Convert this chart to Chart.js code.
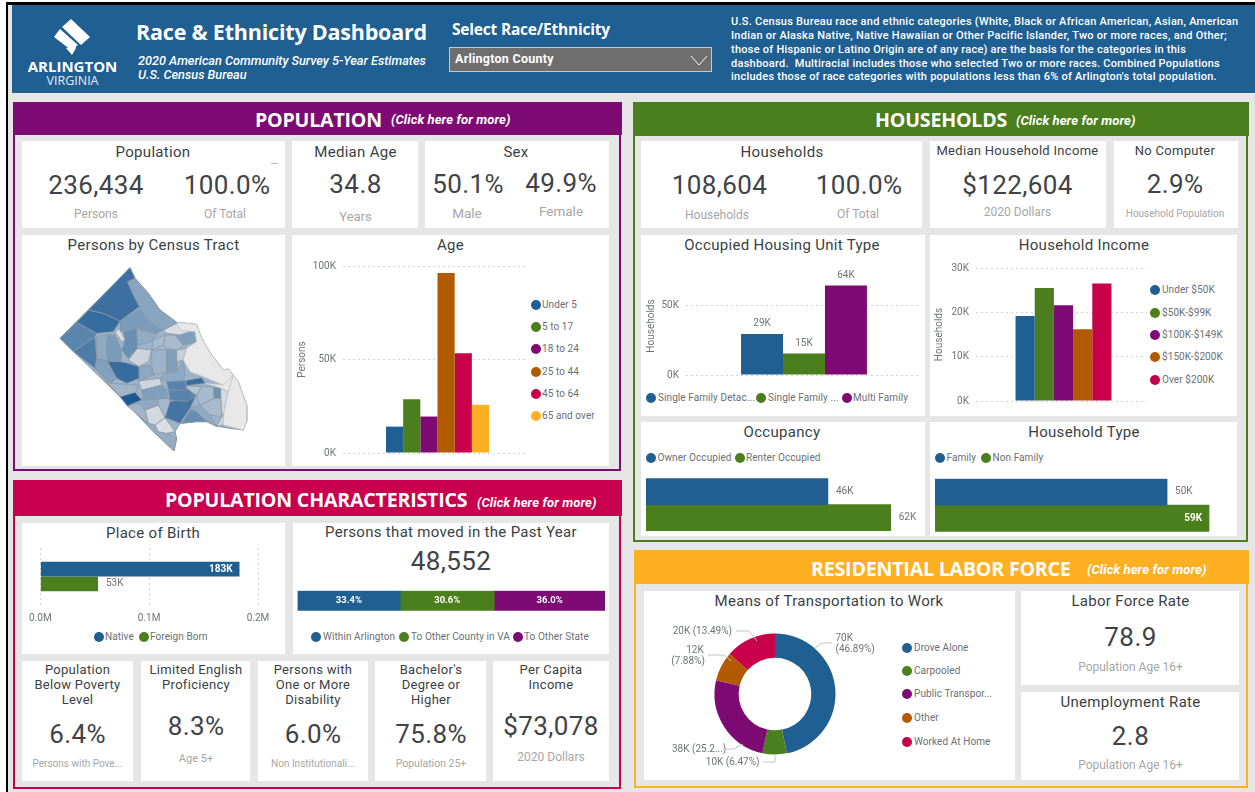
<!DOCTYPE html>
<html><head><meta charset="utf-8">
<script src="https://cdn.jsdelivr.net/npm/chart.js@4"></script>
<style>
html,body{margin:0;padding:0;background:#fff;overflow:hidden}
#root{position:relative;width:1255px;height:792px;overflow:hidden;background:#e6e6e6;font-family:Roboto,sans-serif}
#root div,#root canvas,#root svg{position:absolute}
.t{white-space:nowrap;line-height:1}
</style></head><body><div id="root"></div>
<script>
// ---------- data ----------
const ageGroups=['Under 5','5 to 17','18 to 24','25 to 44','45 to 64','65 and over'];
const ageValues=[14100,28700,19500,96300,53400,25800];
const ageTicks=[0,50000,100000];
const unitTypes=['Single Family Detac...','Single Family ...','Multi Family'];
const unitValues=[29300,15300,64000];
const unitTicks=[0,50000];
const incomeGroups=['Under $50K','$50K-$99K','$100K-$149K','$150K-$200K','Over $200K'];
const incomeValues=[19200,25500,21600,16200,26500];
const incomeTicks=[0,10000,20000,30000];
const occupancyNames=['Owner Occupied','Renter Occupied'];
const occupancyValues=[46300,62300];
const householdTypes=['Family','Non Family'];
const householdTypeValues=[49800,58800];
const birthNames=['Native','Foreign Born'];
const birthValues=[183000,53000];
const birthTicks=[0,100000,200000];
const movedNames=['Within Arlington','To Other County in VA','To Other State'];
const movedShares=[33.4,30.6,36.0];
const commuteNames=['Drove Alone','Carpooled','Public Transpor...','Other','Worked At Home'];
const commuteValues=[69900,9650,37670,11750,20110];
const mapOutline=[330,98,345,130,385,175,420,225,470,262,530,268,545,310,575,360,610,405,625,402,640,420,655,440,680,510,680,560,670,585,630,580,600,575,560,560,530,560,480,565,465,590,470,610,462,648,400,590,300,485,120,310];
const tractShapes=[
[330,98,345,130,322,140,340,180,358,215,300,258,250,235,205,225,170,262],
[205,225,250,235,300,258,280,290,230,295,170,262],
[345,130,385,175,420,225,470,262,430,285,395,265,358,222,358,215,340,180,322,140],
[358,222,395,265,430,285,410,295,350,280,300,290,300,258],
[170,262,230,295,225,305,160,350,120,310],
[225,305,230,370,225,400,160,350],
[230,305,262,298,258,340,262,378,230,370],
[262,298,285,300,305,345,302,380,262,378,258,340],
[285,290,300,280,315,315,305,320],
[310,290,350,280,352,340,325,370,305,345,315,315],
[350,285,410,295,395,320,352,330],
[262,378,302,380,325,385,357,395,358,430,320,445,290,430],
[225,370,262,378,290,430,270,445,225,400],
[225,400,270,445,355,450,350,470,300,485],
[300,485,345,472,365,495,322,513],
[357,395,395,390,400,420,358,438],
[355,438,420,430,425,450,365,465],
[365,465,425,450,440,465,445,490,370,495],
[440,440,495,437,500,465,445,465],
[445,465,500,460,530,482,500,500,450,495],
[495,437,545,428,555,445,500,452],
[450,500,528,482,510,520,480,565,435,548],
[510,525,530,530,560,560,530,560,485,565],
[345,495,370,495,410,490,415,510,375,525,355,505],
[355,505,375,525,385,565,360,545,322,513],
[375,525,415,510,435,548,405,570,385,565],
[415,490,445,490,455,510,435,548,415,510],
[405,570,435,548,465,590,440,595,415,590],
[385,565,405,570,415,590,440,595,470,610,462,648,400,590,360,545],
[470,262,530,268,545,310,575,360,610,405,625,402,640,420,610,450,550,425,510,410,490,375,500,340,530,320,525,290,480,285],
[640,420,655,440,680,510,680,560,670,585,610,570,612,530,625,470],
[610,450,640,420,625,470,600,458,555,445],
[430,285,470,265,525,285,480,300,440,295],
[465,300,525,285,530,320,490,330],
[400,315,435,300,430,330,395,345],
[435,300,465,300,490,330,470,345,440,340,430,330],
[470,345,500,340,490,375,470,380],
[440,345,470,345,470,410,440,412],
[352,340,395,345,385,380,357,395,325,375],
[395,345,440,345,440,412,400,420,395,390],
[440,412,470,410,490,375,495,420,490,437,440,440,420,430],
[530,482,545,455,580,455,582,490,540,510],
[580,455,600,458,602,490,582,490],
[540,510,582,490,602,490,605,545,570,540],
[510,520,540,510,570,540,590,575,560,560,530,530],
[600,458,625,470,612,530,605,545],
[590,575,605,545,612,530,610,570],
[500,452,545,455,530,482,500,465]];
const tractPersons=[5900,6100,3300,3800,4900,5300,3100,3800,500,4400,3000,6100,3500,2500,7000,3200,900,3600,5000,5000,6000,5700,4500,3100,2500,800,2300,500,2900,0,0,0,500,3600,2200,2200,1200,3600,1000,2600,3100,2200,4300,2200,3100,700,1000,1800];

// ---------- palette ----------
const BLUE='#1f5f92',GREEN='#4b7f1d',PURPLE='#7e0a74',ORANGE='#b25a00',RED='#c80049',GOLD='#fdb022';
const SERIES=[BLUE,GREEN,PURPLE,ORANGE,RED,GOLD];
const root=document.getElementById('root');
const INK='#3a3f44',SOFT='#a6a6a6',LEG='#6a6f73',HEAD='"Open Sans",sans-serif';

function box(x,y,w,h,bg,extra){const d=document.createElement('div');d.style.cssText=`left:${x}px;top:${y}px;width:${w}px;height:${h}px;background:${bg};${extra||''}`;root.appendChild(d);return d;}
function txt(s,x,y,o){o=o||{};const d=document.createElement('div');d.className='t';d.textContent=s;
 const a=o.align||'center';const tx=a==='center'?'-50%':a==='right'?'-100%':'0';
 d.style.cssText=`left:${x}px;top:${y}px;transform:translate(${tx},-50%);font-size:${o.size||15}px;color:${o.color||INK};font-weight:${o.weight||400};font-style:${o.italic?'italic':'normal'};font-family:${o.font||'Roboto,sans-serif'};letter-spacing:${o.ls||0}px;`;
 root.appendChild(d);return d;}
const title=(s,x,y,o)=>txt(s,x,y,Object.assign({size:15,color:'#3a3f44',ls:.3},o||{}));
const big=(s,x,y,o)=>txt(s,x,y,Object.assign({size:26,color:'#3f4347',ls:.4},o||{}));
const sub=(s,x,y,o)=>txt(s,x,y,Object.assign({size:12,color:SOFT},o||{}));
function dot(x,y,c){box(x-5,y-5,10,10,c,'border-radius:50%');}
function leg(name,dx,tx,y,c){dot(dx,y,c);txt(name,tx,y,{align:'left',size:10,color:LEG,ls:.08});}
function rect(a,b,c,d){return box(a,b,c-a,d-b,'#fff');}
function panel(a,b,c,d,color,head){box(a,b,c-a-5,d-b-5,'#e6e6e6',`border:2.5px solid ${color}`);box(a,b,c-a,head-b,color);}

// frame
box(0,0,6,792,'#fff');box(0,0,1255,2,'#fff');box(6,2,2,790,'#000');box(6,2,1249,2.5,'#000');

// header band
box(12,5,1243,88,BLUE);
const ns='http://www.w3.org/2000/svg';
function svgLayer(){const s=document.createElementNS(ns,'svg');s.setAttribute('width',1255);s.setAttribute('height',792);s.style.cssText='left:0;top:0;pointer-events:none;z-index:5';root.appendChild(s);return s;}
const logo=svgLayer();
[[71,19,90,37,81,45,62,27],[60,29,78,45,71,50,54,37],[66,48,75,46,76,48,72,55]].forEach(p=>{const e=document.createElementNS(ns,'polygon');e.setAttribute('points',p.join(' '));e.setAttribute('fill','#fff');logo.appendChild(e);});
txt('ARLINGTON',72.5,66,{size:15,weight:700,color:'#fff',font:HEAD});
txt('VIRGINIA',72.5,81,{size:12.5,weight:400,color:'#e8eef4',font:HEAD});
txt('Race & Ethnicity Dashboard',136,32,{align:'left',size:21.5,weight:700,color:'#fff',font:HEAD,ls:-.2});
txt('2020 American Community Survey 5-Year Estimates',138,61,{align:'left',size:12.7,weight:500,italic:1,color:'#fff'});
txt('U.S. Census Bureau',138,75,{align:'left',size:12.7,weight:500,italic:1,color:'#fff'});
txt('Select Race/Ethnicity',452,30,{align:'left',size:15.5,weight:700,color:'#fff',font:HEAD,ls:-.2});
box(449,47,261,23,'#6e6e6e','border:1px solid #c9c9c9');
txt('Arlington County',455,59,{align:'left',size:12.5,weight:700,color:'#fff',ls:.25});
const chev=document.createElementNS(ns,'polyline');chev.setAttribute('points','691,56 699,65 707,56');chev.setAttribute('fill','none');chev.setAttribute('stroke','#fff');logo.appendChild(chev);
['U.S. Census Bureau race and ethnic categories (White, Black or African American, Asian, American',
 'Indian or Alaska Native, Native Hawaiian or Other Pacific Islander, Two or more races, and Other;',
 'those of Hispanic or Latino Origin are of any race) are the basis for the categories in this',
 'dashboard.  Multiracial includes those who selected Two or more races. Combined Populations',
 "includes those of race categories with populations less than 6% of Arlington's total population."]
 .forEach((l,i)=>{const d=txt(l,731,[21,34.5,48.5,62.5,76][i],{align:'left',size:11,weight:500,color:'#fff',ls:.25});d.style.whiteSpace='pre';});

// panels
panel(13,102,622,472,PURPLE,135);
panel(633,102,1249,543,GREEN,136);
panel(13,480,622,790,'#c8004e',516);
panel(634,550,1249,789,GOLD,584);
const H={align:'left',size:19.6,weight:700,color:'#fff',font:HEAD,ls:-.2};
const C={align:'left',size:13,weight:700,italic:1,color:'#fff',ls:.1};
txt('POPULATION',255,120,H);txt('(Click here for more)',391,119,C);
txt('HOUSEHOLDS',875,120,H);txt('(Click here for more)',1016,120,C);
txt('POPULATION CHARACTERISTICS',165,500,H);txt('(Click here for more)',477,502,C);
txt('RESIDENTIAL LABOR FORCE',811,569,H);txt('(Click here for more)',1087,569,C);

// cards
[[22,141,285,228],[292,141,418,228],[425,141,609,228],[22,235,285,466],[292,235,609,466],
 [641,141,922,228],[930,141,1106,228],[1114,141,1238,228],[641,235,925,416],[930,235,1237,416],[641,422,925,536],[930,422,1237,536],
 [22,523,285,654],[293,523,609,654],[22,661,133,781],[141,661,250,781],[258,661,368,781],[375,661,486,781],[493,661,609,781],
 [644,591,1015,780],[1021,591,1239,685],[1021,692,1239,780]].forEach(r=>rect(...r));

// KPI text
title('Population',153,152);big('236,434',96,185);big('100.0%',227,185);sub('Persons',96,214);sub('Of Total',225,214);box(271,163,7,1,'#bbb');
title('Median Age',355.5,152);big('34.8',355.5,184);sub('Years',355.5,216,{size:13});
title('Sex',516,152);big('50.1%',468,184);big('49.9%',561,183);sub('Male',467,214,{size:13.5});sub('Female',561,212,{size:13.5});
title('Households',782,152);big('108,604',719.5,185);big('100.0%',859,185);sub('Households',717,215);sub('Of Total',858,214);
title('Median Household Income',1017.5,150,{size:13,ls:.3});big('$122,604',1017.5,185);sub('2020 Dollars',1017.5,212);
title('No Computer',1175,150,{size:13,ls:.3});big('2.9%',1175,184);sub('Household Population',1175,214,{size:10});
title('Persons by Census Tract',153.5,245);title('Age',450.5,245);
title('Occupied Housing Unit Type',782,245);title('Household Income',1084,245);
title('Occupancy',782,432);title('Household Type',1084,432);
title('Place of Birth',153,533);title('Persons that moved in the Past Year',451,532);big('48,552',451,561);
[['Population','Below Poverty','Level'],['Limited English','Proficiency'],['Persons with','One or More','Disability'],["Bachelor's",'Degree or','Higher'],['Per Capita','Income']]
 .forEach((ls,i)=>ls.forEach((l,j)=>title(l,[77.5,196,313,431,551][i],669+j*15,{size:13,ls:.3})));
big('6.4%',77.5,734);big('8.3%',196,726);big('6.0%',313,734);big('75.8%',431,734);big('$73,078',551,726);
sub('Persons with Pove...',77.5,764,{size:10});sub('Age 5+',196,758,{size:11});sub('Non Institutionali...',313,764,{size:10});sub('Population 25+',431,764,{size:10.5});sub('2020 Dollars',551,757);
title('Means of Transportation to Work',829,600.5);title('Labor Force Rate',1130.5,601);big('78.9',1130.5,637);sub('Population Age 16+',1130.5,667);
title('Unemployment Rate',1130.5,702);big('2.8',1130.5,736);sub('Population Age 16+',1130.5,765);

// legends
ageGroups.forEach((n,i)=>leg(n,536,542,[304.5,326.5,349,371.5,393.5,416][i],SERIES[i]));
unitTypes.forEach((n,i)=>leg(n,[651,761,847][i],[658,768,853][i],398,SERIES[i]));
incomeGroups.forEach((n,i)=>leg(n,1155,1162,[290,312.5,335,357,379.5][i],SERIES[i]));
occupancyNames.forEach((n,i)=>leg(n,[651,740][i],[657.5,746][i],458,SERIES[i]));
householdTypes.forEach((n,i)=>leg(n,[940,986][i],[946.5,992.5][i],458,SERIES[i]));
birthNames.forEach((n,i)=>leg(n,[98.5,143.5][i],[105,150][i],637,SERIES[i]));
movedNames.forEach((n,i)=>leg(n,[315.5,404,517.5][i],[323,411,524][i],636.5,SERIES[i]));
commuteNames.forEach((n,i)=>leg(n,906.5,914,[647.5,671,694,718,741.5][i],SERIES[i]));

// ---------- charts ----------
const FONT={family:'Roboto',size:10};
const AXIS='#6f7377',GRIDC='#d4d4d4';
const thousands=v=>Math.round(v/1000)+'K';
const barLabels={id:'barLabels',afterDatasetsDraw(ch,a,o){
 if(!o.mode)return;const c=ch.ctx;c.save();c.textBaseline='middle';
 ch.data.datasets.forEach((ds,i)=>{const el=ch.getDatasetMeta(i).data[0];const v=ds.data[0];let x=el.x,y=el.y;
  c.font='10px Roboto';c.fillStyle=AXIS;c.textAlign='center';
  if(o.mode==='top'){y=el.y-10;}
  else if(o.mode==='center'){x=(el.x+el.base)/2;c.font='bold 9.5px Roboto';c.fillStyle='#fff';}
  else if((o.inside||[]).includes(i)){x=el.x-7;c.textAlign='right';c.font='bold 10px Roboto';c.fillStyle='#fff';}
  else{x=el.x+8;c.textAlign='left';}
  c.fillText(o.fmt?o.fmt(v):thousands(v),x,y);});
 c.restore();}};
// nudges a single-category group of bars sideways inside its gridlines
const groupShift={id:'groupShift',beforeDatasetsUpdate(ch,a,o){if(o.px&&ch.scales.x)ch.scales.x._startPixel+=o.px;}};
Chart.register(barLabels,groupShift);
function canvas(x0,y0,x1,y1){const c=document.createElement('canvas');c.width=x1-x0;c.height=y1-y0;c.style.cssText=`left:${x0}px;top:${y0}px;width:${x1-x0}px;height:${y1-y0}px`;root.appendChild(c);return c;}
const base={responsive:false,animation:false,devicePixelRatio:1,events:[]};
// vertical grouped bars in a single category, one dataset per group
function vbars(o){const [x0,y0,x1,y1]=o.rect;
 new Chart(canvas(x0,y0,x1,y1),{type:'bar',data:{labels:[''],datasets:o.names.map((n,i)=>({label:n,data:[o.values[i]],backgroundColor:SERIES[i],borderWidth:0}))},
 options:Object.assign({},base,{layout:{padding:{left:0,right:x1-o.area[2],top:o.area[1]-y0,bottom:y1-o.area[3]}},
  categoryPercentage:o.cat,barPercentage:1,
  plugins:{legend:{display:false},tooltip:{enabled:false},barLabels:o.label||{},groupShift:{px:o.shift||0}},
  scales:{x:{display:false},y:{min:0,max:o.max,afterFit:s=>{s.width=o.area[0]-x0},afterBuildTicks:s=>{s.ticks=o.ticks.map(v=>({value:v}))},
   title:{display:true,text:o.yTitle,color:AXIS,font:FONT,padding:{top:o.titlePad||0,bottom:0}},
   border:{display:false,dash:[2,3]},grid:{color:GRIDC,drawTicks:false},
   ticks:{color:AXIS,font:FONT,padding:7,callback:thousands}}}})});}
vbars({rect:[292,235,609,466],area:[343,266,528,455],names:ageGroups,values:ageValues,max:100000,ticks:ageTicks,yTitle:'Persons',cat:.557,titlePad:4,shift:2});
vbars({rect:[641,255,925,388],area:[686,277,920,378],names:unitTypes,values:unitValues,max:70000,ticks:unitTicks,yTitle:'Households',cat:.538,titlePad:4,shift:1,label:{mode:'top'}});
vbars({rect:[930,255,1150,414],area:[976,266,1147,405],names:incomeGroups,values:incomeValues,max:30000,ticks:incomeTicks,yTitle:'Households',cat:.561,titlePad:3,shift:2});
// horizontal bars in a single category
function hbars(o){const [x0,y0,x1,y1]=o.rect;
 new Chart(canvas(x0,y0,x1,y1),{type:'bar',data:{labels:[''],datasets:o.names.map((n,i)=>({label:n,data:[o.values[i]],backgroundColor:SERIES[i],borderWidth:0}))},
 options:Object.assign({},base,{indexAxis:'y',layout:{padding:{left:o.area[0]-x0,right:x1-o.area[2],top:o.area[1]-y0,bottom:y1-o.area[3]-(o.axisH||0)}},
  categoryPercentage:o.cat||1,barPercentage:1,
  plugins:{legend:{display:false},tooltip:{enabled:false},barLabels:o.label},
  scales:{y:{display:false,stacked:!!o.stacked},x:Object.assign({min:0,max:o.max,stacked:!!o.stacked},o.x||{display:false})}})});}
hbars({rect:[641,470,925,536],area:[646,478.3,921,531],names:occupancyNames,values:occupancyValues,max:70000,label:{mode:'end'}});
hbars({rect:[930,470,1237,536],area:[935,478.7,1228.6,531.7],names:householdTypes,values:householdTypeValues,max:63000,label:{mode:'end',inside:[1]}});
hbars({rect:[22,540,285,630],area:[39,548,258,605],axisH:18,names:birthNames,values:birthValues,max:200000,cat:.514,label:{mode:'end',inside:[0]},
 x:{afterBuildTicks:s=>{s.ticks=birthTicks.map(v=>({value:v}))},border:{display:false,dash:[2,3]},grid:{color:GRIDC,drawTicks:false},
 afterFit:s=>{s.height=18},ticks:{color:AXIS,font:FONT,padding:7,maxRotation:0,callback:v=>(v/1e6).toFixed(1)+'M'}}});
hbars({rect:[293,585,609,616],area:[297.5,590.7,605,610.7],names:movedNames,values:movedShares,max:100,stacked:true,label:{mode:'center',fmt:v=>v.toFixed(1)+'%'}});
// doughnut
new Chart(canvas(700,619,850,769),{type:'doughnut',data:{labels:commuteNames,datasets:[{data:commuteValues,backgroundColor:SERIES.slice(0,5),borderWidth:0}]},
 options:Object.assign({},base,{cutout:'60%',radius:60.5,layout:{padding:0},plugins:{legend:{display:false},tooltip:{enabled:false}}})});
const total=commuteValues.reduce((a,b)=>a+b,0);
const pct=i=>(commuteValues[i]/total*100).toFixed(2)+'%';
const D={size:10,color:AXIS};
txt(thousands(commuteValues[0]),835.5,637.5,Object.assign({align:'left'},D));txt('('+pct(0)+')',835.5,648.5,Object.assign({align:'left'},D));
txt(thousands(commuteValues[4])+' ('+pct(4)+')',732,631,Object.assign({align:'right'},D));
txt(thousands(commuteValues[3]),695,650,D);txt('('+pct(3)+')',688,661,D);
txt(thousands(commuteValues[2])+' (25.2...)',672,749,Object.assign({align:'left'},D));
txt(thousands(commuteValues[1])+' ('+pct(1)+')',759.5,762,Object.assign({align:'right'},D));
const lead=svgLayer();
['815,648 822,643 832,643','736,631 749,631 757,641','708,655 724,655 731,661','723,749 734,749 743,744','763,762 775,762 775,755']
 .forEach(p=>{const e=document.createElementNS(ns,'polyline');e.setAttribute('points',p);e.setAttribute('fill','none');e.setAttribute('stroke','#c4c4c4');lead.appendChild(e);});
// choropleth drawn as closed line shapes
const pairs=a=>{const r=[];for(let i=0;i<a.length;i+=2)r.push({x:a[i],y:a[i+1]});return r;};
function shade(v){const t=v/7000,a=[232,232,232],b=[29,90,148];return `rgb(${a.map((c,i)=>Math.round(c+(b[i]-c)*t)).join(',')})`;}
const mapSets=tractShapes.map((s,i)=>({data:pairs(s.concat(s.slice(0,2))),showLine:true,fill:'shape',tension:0,pointRadius:0,borderWidth:.8,
  borderColor:tractPersons[i]===0?'#c6c6c6':'#8b98a5',backgroundColor:shade(tractPersons[i])}));
mapSets.push({data:pairs(mapOutline.concat(mapOutline.slice(0,2))),showLine:true,fill:'shape',tension:0,pointRadius:0,borderWidth:1,borderColor:'#8795a3',backgroundColor:shade(2600)});
new Chart(canvas(23,256,285,466),{type:'scatter',data:{datasets:mapSets},options:Object.assign({},base,{layout:{padding:0},
 plugins:{legend:{display:false},tooltip:{enabled:false}},
 scales:{x:{display:false,min:9,max:795},y:{display:false,reverse:true,min:63,max:693}}})});
</script></body></html>
